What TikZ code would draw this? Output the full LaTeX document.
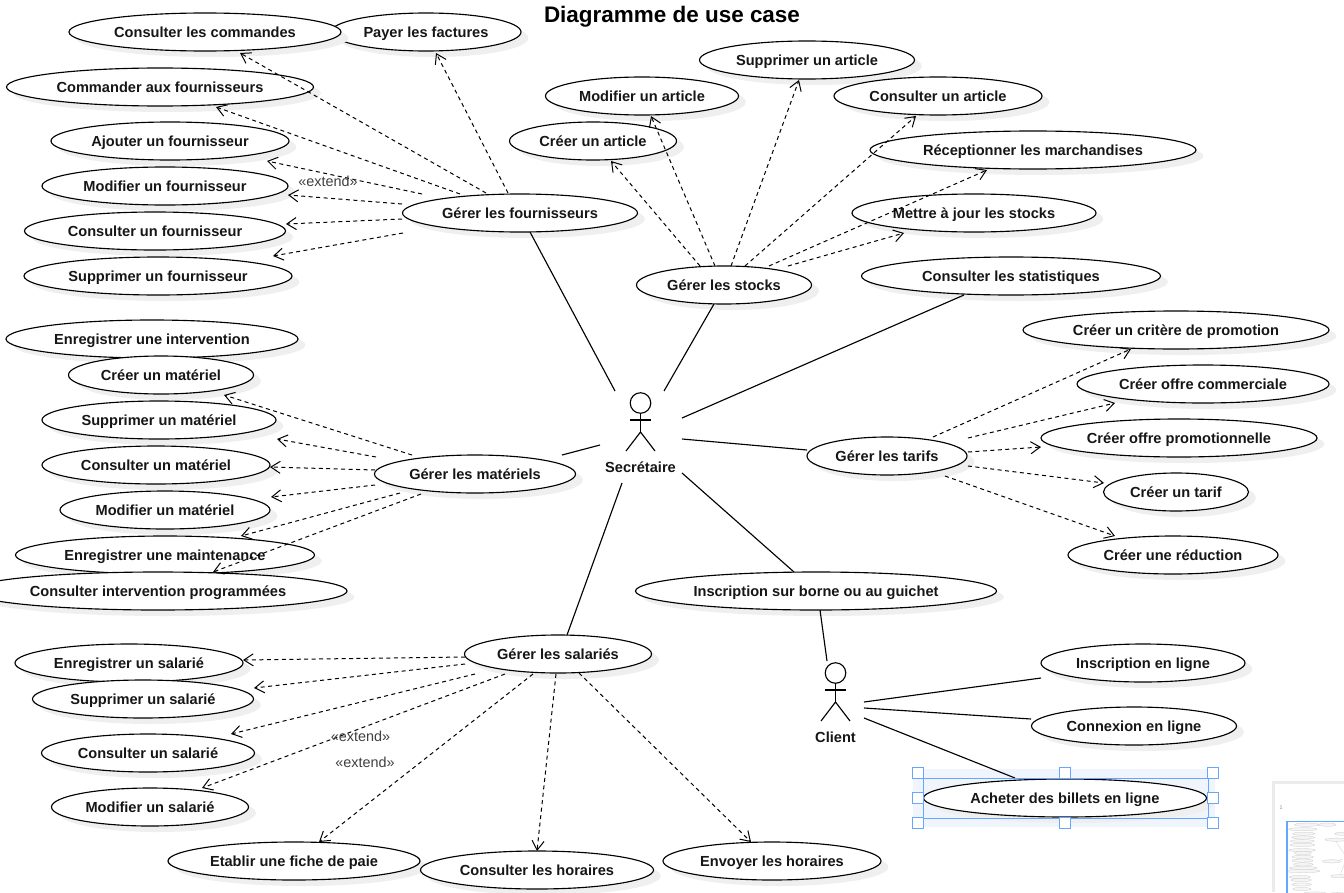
\documentclass[tikz,border=0pt]{standalone}
\usepackage{fontspec}
\setmainfont{Liberation Sans}
\usetikzlibrary{shapes.geometric,arrows.meta,calc,shadows}
\definecolor{shadowc}{HTML}{EFEFEF}
\definecolor{selblue}{HTML}{66A6FF}
\definecolor{seltint}{HTML}{F0F5FD}
\definecolor{inkc}{HTML}{161616}
\tikzset{
  uc/.style={ellipse,draw=black,fill=white,line width=0.85pt,minimum height=28.5pt,inner sep=0pt,
    text=inkc,font=\fontsize{10.95}{13}\selectfont\bfseries,text height=9.2pt,text depth=1pt,
    general shadow={fill=shadowc,draw=none,shadow xshift=5.5pt,shadow yshift=-4.5pt}},
  solidline/.style={line width=0.85pt,black},
  dep/.style={line width=0.75pt,black,dash pattern=on 3pt off 2.6pt,-{Straight Barb[length=7pt,width=9pt,line width=0.75pt]}},
  extlabel/.style={text=black!75,font=\fontsize{10.8}{13}\selectfont,inner sep=0pt},
  actorlabel/.style={text=inkc,font=\fontsize{10.95}{13}\selectfont\bfseries,inner sep=0pt},
  handle/.style={draw=selblue,fill=white,line width=1.1pt,minimum size=8.2pt,inner sep=0pt},
  stick/.style={line width=0.85pt,black},
}
\newcommand{\ucase}[5]{\node[uc,minimum width=#5*0.75pt] (#1) at (#2,#3) {#4};}
\newcommand{\cnx}[5]{\draw[#1] ($(#2)+(#3)$) -- ($(#4)+(#5)$);}
\newcommand{\dep}[4]{\cnx{dep}{#1}{#2}{#3}{#4}}
\newcommand{\lin}[4]{\cnx{solidline}{#1}{#2}{#3}{#4}}
\newcommand{\actor}[1]{%
  \draw[stick] ($(#1)+(0,-19)$) circle[radius=7.7pt];
  \draw[stick] ($(#1)+(0,-9)$) -- ($(#1)+(0,10)$);
  \draw[stick] ($(#1)+(-10.5,-2)$) -- ($(#1)+(10.5,-2)$);
  \draw[stick] ($(#1)+(-14.5,29)$) -- ($(#1)+(0,10)$) -- ($(#1)+(14.5,29)$);
}
\begin{document}
\begin{tikzpicture}[x=0.75pt,y=-0.75pt]
\useasboundingbox (0,0) rectangle (1344,892);
\fill[white] (0,0) rectangle (1344,892);

% selection tint goes behind the selected use case
\fill[seltint] (913,769) rectangle (1215,827);

\node[font=\fontsize{16.85}{20}\selectfont\bfseries,text=black,inner sep=0pt] (title) at (672,17) {Diagramme de use case};

% use cases
\ucase{pay}{426}{32}{Payer les factures}{190}
\ucase{ccmd}{205}{32}{Consulter les commandes}{272}
\ucase{cfou}{160}{87}{Commander aux fournisseurs}{307}
\ucase{ajf}{170}{141}{Ajouter un fournisseur}{238}
\ucase{mof}{165}{186}{Modifier un fournisseur}{246}
\ucase{cof}{155}{231}{Consulter un fournisseur}{261}
\ucase{suf}{158}{276}{Supprimer un fournisseur}{268}
\ucase{gf}{520}{213}{Gérer les fournisseurs}{235}

\ucase{sua}{807}{60}{Supprimer un article}{215}
\ucase{moa}{642}{96}{Modifier un article}{193}
\ucase{coa}{938}{96}{Consulter un article}{208}
\ucase{cra}{593}{141}{Créer un article}{167}
\ucase{rec}{1033}{150}{Réceptionner les marchandises}{326}
\ucase{maj}{974}{213}{Mettre à jour les stocks}{244}
\ucase{gs}{724}{285}{Gérer les stocks}{175}
\ucase{stat}{1011}{276}{Consulter les statistiques}{299}

\ucase{crit}{1176}{330}{Créer un critère de promotion}{306}
\ucase{ocom}{1203}{384}{Créer offre commerciale}{252}
\ucase{opro}{1179}{438}{Créer offre promotionnelle}{276}
\ucase{gt}{887}{456}{Gérer les tarifs}{160}
\ucase{crt}{1176}{492}{Créer un tarif}{145}
\ucase{crr}{1173}{555}{Créer une réduction}{210}

\ucase{eint}{152}{339}{Enregistrer une intervention}{292}
\ucase{crm}{161}{375}{Créer un matériel}{185}
\ucase{sum}{159}{420}{Supprimer un matériel}{234}
\ucase{com}{156}{465}{Consulter un matériel}{228}
\ucase{mom}{165}{510}{Modifier un matériel}{210}
\ucase{emai}{165}{555}{Enregistrer une maintenance}{299}
\ucase{cint}{158}{591}{Consulter intervention programmées}{378}
\ucase{gm}{475}{474}{Gérer les matériels}{201}

\ucase{ibg}{816}{591}{Inscription sur borne ou au guichet}{361}
\ucase{gsa}{558}{654}{Gérer les salariés}{187}
\ucase{ens}{129}{663}{Enregistrer un salarié}{228}
\ucase{sus}{143}{699}{Supprimer un salarié}{221}
\ucase{cos}{148}{753}{Consulter un salarié}{213}
\ucase{mos}{150}{807}{Modifier un salarié}{197}
\ucase{fdp}{294}{861}{Etablir une fiche de paie}{252}
\ucase{coh}{537}{870}{Consulter les horaires}{233}
\ucase{enh}{772}{861}{Envoyer les horaires}{218}

\ucase{iel}{1143}{663}{Inscription en ligne}{204}
\ucase{cel}{1134}{726}{Connexion en ligne}{205}
\ucase{abl}{1065}{798}{Acheter des billets en ligne}{283}

% actors
\coordinate (sec) at (640.5,422);
\coordinate (cli) at (835.5,692);
\actor{sec}
\actor{cli}
\node[actorlabel] (secl) at (640.5,467) {Secrétaire};
\node[actorlabel] (clil) at (835.5,737) {Client};

% associations
\lin{gf}{10,19}{sec}{-25.5,-31}
\lin{gs}{-10,19}{sec}{23.5,-31}
\lin{stat}{-47,19}{sec}{41.5,-4}
\lin{gt}{-80,-6}{sec}{41.5,17}
\lin{gm}{87,-19}{sec}{-40.5,23}
\lin{gsa}{9,-19}{sec}{-18.5,61}
\lin{ibg}{-22,-19}{sec}{41.5,51}
\lin{ibg}{4,19}{cli}{-8.5,-31}
\lin{cli}{28.5,10}{iel}{-102,15}
\lin{cli}{28.5,16}{cel}{-103,-7}
\lin{cli}{28.5,26}{abl}{-50,-20}

% dependencies: fournisseurs
\dep{gf}{-12,-20}{pay}{10,21}
\dep{gf}{-34,-20}{ccmd}{35,21}
\dep{gf}{-60,-19}{cfou}{56,20}
\dep{gf}{-98,-19}{ajf}{97,20}
\dep{gf}{-118,-9}{mof}{123,9}
\dep{gf}{-118,6}{cof}{131,-7}
\dep{gf}{-117,20}{suf}{115,-20}
% stocks
\dep{gs}{-24,-19}{cra}{18,20}
\dep{gs}{-9,-19}{moa}{9,20}
\dep{gs}{7,-19}{sua}{-8,20}
\dep{gs}{21,-19}{coa}{-22,20}
\dep{gs}{45,-19}{rec}{-46,20}
\dep{gs}{64,-19}{maj}{-70,20}
% tarifs
\dep{gt}{46,-19}{crit}{-45,19}
\dep{gt}{81,-18}{ocom}{-88,19}
\dep{gt}{81,-4}{opro}{-138,9}
\dep{gt}{81,10}{crt}{-72,-9}
\dep{gt}{58,20}{crr}{-58,-19}
% materiels
\dep{gm}{-63,-19}{crm}{63,20}
\dep{gm}{-99,-17}{sum}{118,19}
\dep{gm}{-100,-4}{com}{114,2}
\dep{gm}{-100,11}{mom}{106,-13}
\dep{gm}{-75,19}{emai}{76,-19}
\dep{gm}{-54,20}{cint}{55,-19}
% salaries
\dep{gsa}{-93,3}{ens}{114,-3}
\dep{gsa}{-93,10}{sus}{111,-11}
\dep{gsa}{-83,20}{cos}{83,-19}
\dep{gsa}{-53,20}{mos}{52,-19}
\dep{gsa}{-25,20}{fdp}{25,-19}
\dep{gsa}{-2,20}{coh}{0,-19}
\dep{gsa}{21,19}{enh}{-21,-19}

\node[extlabel] (ext1) at (328,181) {«extend»};
\node[extlabel] (ext2) at (360.5,736) {«extend»};
\node[extlabel] (ext3) at (365,762) {«extend»};

% selection frame and handles
\draw[selblue,line width=0.6pt] (923,778) rectangle (1208,818);
\foreach \hx/\hy/\hn in {918/773/a,1065/773/b,1213/773/c,918/798/d,1213/798/e,918/823/f,1065/823/g,1213/823/h}
  \node[handle] (hd\hn) at (\hx,\hy) {};

% thumbnail of the page
\fill[black!8] (1272,781) rectangle (1344,892);
\fill[white] (1275,784) rectangle (1344,892);
\node[text=black!45,font=\fontsize{4}{4}\selectfont,inner sep=0pt] (pageno) at (1281,808) {1};
\begin{scope}
\clip (1286,820) rectangle (1344,892);
\foreach \cx/\cy/\cw in {205/32/272,426/32/190,160/87/307,170/141/238,165/186/246,155/231/261,158/276/268,520/213/235,152/339/292,161/375/185,159/420/234,156/465/228,165/510/210,165/555/299,158/591/378,475/474/201,129/663/228,143/699/221,148/753/213,150/807/197,294/861/252,558/654/187,537/870/233,593/141/167}
  \draw[black!22,line width=0.2pt,fill=black!4] (1288+0.092*\cx,822+0.083*\cy) ellipse[x radius=0.046*\cw*0.75pt,y radius=1.2pt];
\draw[black!20,line width=0.2pt] (1288+0.092*520,822+0.083*232) -- (1288+0.092*615,822+0.083*391);
\draw[black!20,line width=0.2pt] (1288+0.092*562,822+0.083*455) -- (1288+0.092*600,822+0.083*445);
\draw[black!20,line width=0.2pt] (1288+0.092*567,822+0.083*635) -- (1288+0.092*622,822+0.083*483);
\end{scope}
\draw[selblue,line width=0.9pt] (1344.5,821.5) -- (1287,821.5) -- (1287,892.5);
\end{tikzpicture}
\end{document}
